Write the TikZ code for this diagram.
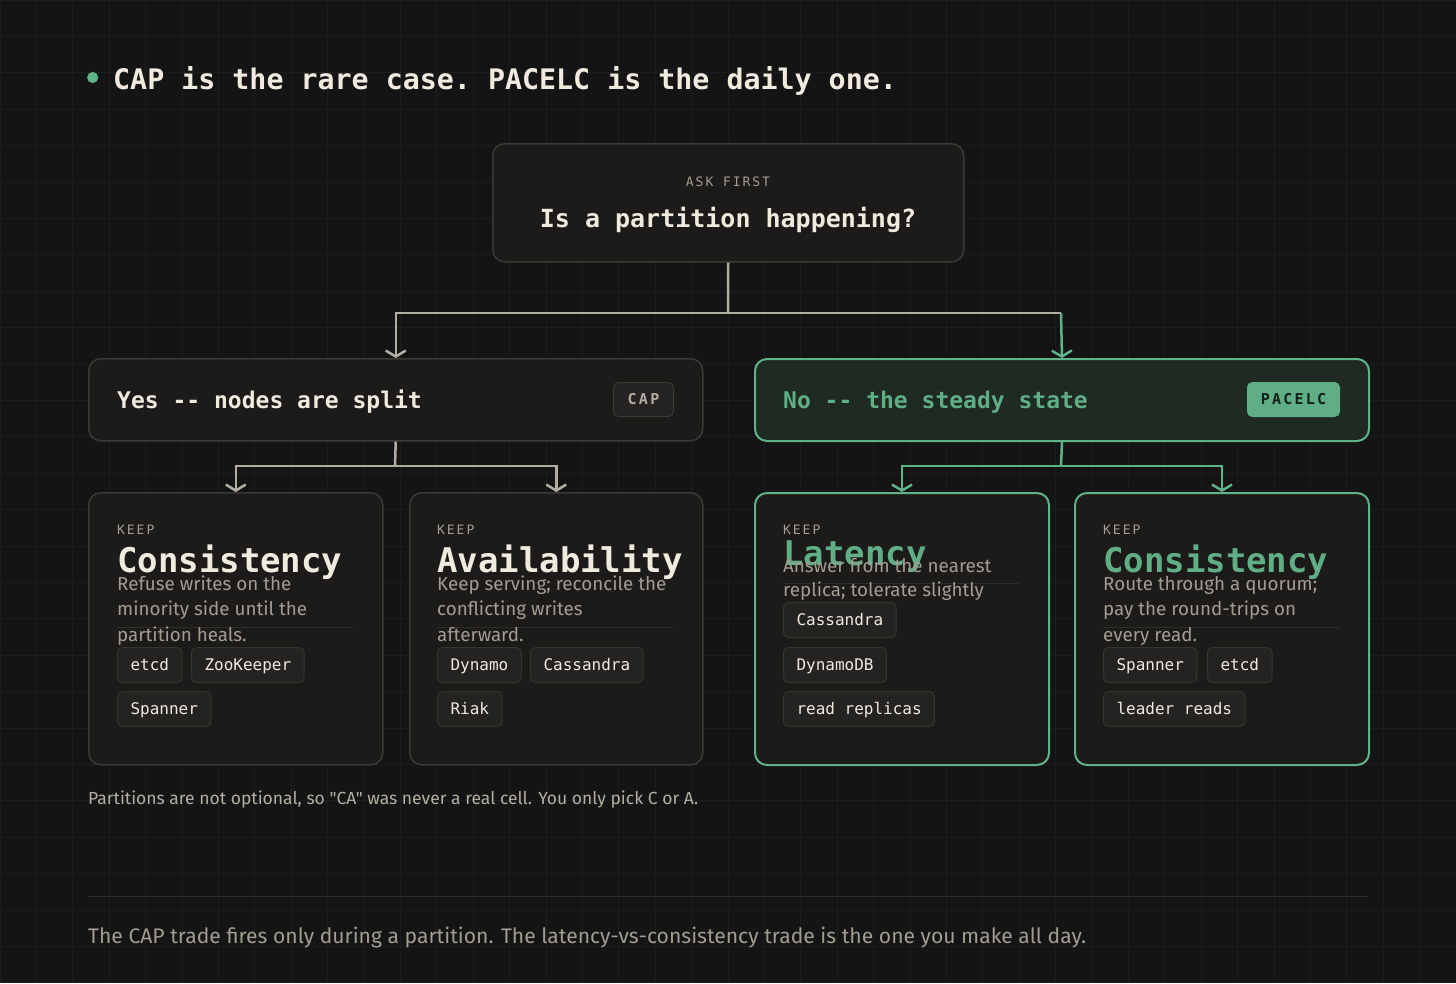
\documentclass[tikz,border=0pt]{standalone}
\usepackage{fontspec}
\usetikzlibrary{arrows.meta}
\setmonofont{DejaVu Sans Mono}
\newfontfamily\plex[Ligatures=TeXOff]{Fira Sans}
\newfontfamily\trk[LetterSpace=15]{DejaVu Sans Mono}
\definecolor{bg}{HTML}{141414}
\definecolor{gridc}{HTML}{1D1D1D}
\definecolor{cardfill}{HTML}{1C1B19}
\definecolor{cardborder}{HTML}{3B3934}
\definecolor{cream}{HTML}{F0EADF}
\definecolor{dim}{HTML}{A39D92}
\definecolor{desc}{HTML}{A39C91}
\definecolor{gline}{HTML}{B3ACA1}
\definecolor{grn}{HTML}{5FB389}
\definecolor{grntext}{HTML}{5FAE86}
\definecolor{grnfill}{HTML}{1E2A22}
\definecolor{chipfill}{HTML}{242321}
\definecolor{chipborder}{HTML}{36342F}
\definecolor{divc}{HTML}{2E2D2A}
\definecolor{foot}{HTML}{B5AEA2}
\definecolor{rulec}{HTML}{2B2A28}
\definecolor{badgetext}{HTML}{10201A}
\newcommand{\fsz}[1]{\fontsize{#1}{#1}\selectfont}
\begin{document}
\begin{tikzpicture}[x=1pt,y=-1pt,
  gridline/.style={draw=gridc, line width=1pt},
  card/.style={draw=cardborder, fill=cardfill, line width=1.5pt, rounded corners=12pt, inner sep=0pt, anchor=north west},
  gcard/.style={card, draw=grn, line width=2pt},
  txt/.style={inner sep=0pt, anchor=base west},
  keep/.style={txt, text=dim, font=\trk\fsz{13}},
  ttl/.style={txt, text=cream, font=\ttfamily\bfseries\fsz{34}},
  gttl/.style={ttl, text=grntext},
  dsc/.style={txt, text=desc, font=\plex\fsz{18.8}},
  divline/.style={draw=divc, line width=1pt},
  chip/.style={draw=chipborder, fill=chipfill, line width=1pt, rounded corners=5pt, inner xsep=13pt, inner ysep=0pt, minimum height=35pt, text height=12.5pt, text depth=1.5pt, anchor=north west, text=cream, font=\ttfamily\fsz{16}},
  gconn/.style={draw=gline, line width=2.5pt},
  grconn/.style={draw=grn, line width=2.5pt},
  tip/.style={-{Straight Barb[length=6pt,width=20pt]}}
]
\useasboundingbox (0,0) rectangle (1456,983);
\fill[bg] (0,0) rectangle (1456,983);
\foreach \i in {0,...,40} \draw[gridline] (\i*36.4,0) -- (\i*36.4,983);
\foreach \j in {0,...,27} \draw[gridline] (0,\j*36.4) -- (1456,\j*36.4);

% title
\fill[grn] (92.7,77.5) circle (5.6);
\node[txt, text=cream, font=\ttfamily\bfseries\fsz{28.3}] (title) at (113,89) {CAP is the rare case. PACELC is the daily one.};

% top question
\node[card, minimum width=471pt, minimum height=118pt] (top) at (492,143) {};
\node[inner sep=0pt, anchor=base, text=dim, font=\trk\fsz{13}] (ask) at (728,186) {ASK FIRST};
\node[inner sep=0pt, anchor=base, text=cream, font=\ttfamily\bfseries\fsz{25}] (q) at (728,227) {Is a partition happening?};

% level 2
\node[card, minimum width=614pt, minimum height=82pt] (cap) at (88,358) {};
\node[txt, text=cream, font=\ttfamily\bfseries\fsz{23}] (yes) at (117,408) {Yes -- nodes are split};
\node[card, draw=cardborder, fill=chipfill, line width=1pt, rounded corners=5pt, minimum width=60pt, minimum height=34pt] (capb) at (613,382) {};
\node[inner sep=0pt, text=gline, font=\trk\bfseries\fsz{15}] (capbt) at (capb.center) {CAP};

\node[gcard, fill=grnfill, minimum width=614pt, minimum height=82pt] (pac) at (754,358) {};
\node[txt, text=grntext, font=\ttfamily\bfseries\fsz{23}] (no) at (783,408) {No -- the steady state};
\node[card, draw=grntext, fill=grntext, line width=1pt, rounded corners=5pt, minimum width=92pt, minimum height=34pt] (pacb) at (1247,382) {};
\node[inner sep=0pt, text=badgetext, font=\trk\bfseries\fsz{15}] (pacbt) at (pacb.center) {PACELC};

% leaves
\node[card, minimum width=294pt, minimum height=272pt] (l1) at (88,492) {};
\node[card, minimum width=293pt, minimum height=272pt] (l2) at (409,492) {};
\node[gcard, minimum width=294pt, minimum height=272pt] (l3) at (754,492) {};
\node[gcard, minimum width=294pt, minimum height=272pt] (l4) at (1074,492) {};

% connectors
\coordinate (j0) at (728,313);
\coordinate (j0r) at (1061,313);
\draw[gconn] (top.south) -- (j0);
\draw[gconn, tip] (j0) -| (cap.north);
\draw[gconn] (j0) -- (j0r);
\draw[grconn, tip] (j0r) -- (pac.north);
\coordinate (j1) at (395,466);
\draw[gconn] (cap.south) -- (j1);
\draw[gconn, tip] (j1) -| (l1.north);
\draw[gconn, tip] (j1) -| (l2.north);
\coordinate (j2) at (1061,466);
\draw[grconn] (pac.south) -- (j2);
\draw[grconn, tip] (j2) -| (l3.north);
\draw[grconn, tip] (j2) -| (l4.north);

% leaf 1
\node[keep] (k1) at (117,534) {KEEP};
\node[ttl] (t1) at (117,572) {Consistency};
\draw[divline] (117,627) -- (353,627);
\node[dsc] (d1a) at (117,590) {Refuse writes on the};
\node[dsc] (d1b) at (117,615.5) {minority side until the};
\node[dsc] (d1c) at (117,641) {partition heals.};
\node[chip] (c1a) at (117,647) {etcd};
\node[chip] (c1b) at (191,647) {ZooKeeper};
\node[chip] (c1c) at (117,691) {Spanner};

% leaf 2
\node[keep] (k2) at (437,534) {KEEP};
\node[ttl] (t2) at (437,572) {Availability};
\draw[divline] (437,627) -- (673,627);
\node[dsc] (d2a) at (437,590) {Keep serving; reconcile the};
\node[dsc] (d2b) at (437,615.5) {conflicting writes};
\node[dsc] (d2c) at (437,641) {afterward.};
\node[chip] (c2a) at (437,647) {Dynamo};
\node[chip] (c2b) at (530,647) {Cassandra};
\node[chip] (c2c) at (437,691) {Riak};

% leaf 3
\node[keep] (k3) at (783,534) {KEEP};
\node[gttl] (t3) at (783,565) {Latency};
\draw[divline] (783,583) -- (1019,583);
\node[dsc] (d3a) at (783,572) {Answer from the nearest};
\node[dsc] (d3b) at (783,596.5) {replica; tolerate slightly};
\node[chip] (c3a) at (783,602) {Cassandra};
\node[chip] (c3b) at (783,647) {DynamoDB};
\node[chip] (c3c) at (783,691) {read replicas};

% leaf 4
\node[keep] (k4) at (1103,534) {KEEP};
\node[gttl] (t4) at (1103,572) {Consistency};
\draw[divline] (1103,627) -- (1339,627);
\node[dsc] (d4a) at (1103,590) {Route through a quorum;};
\node[dsc] (d4b) at (1103,615.5) {pay the round-trips on};
\node[dsc] (d4c) at (1103,641) {every read.};
\node[chip] (c4a) at (1103,647) {Spanner};
\node[chip] (c4b) at (1207,647) {etcd};
\node[chip] (c4c) at (1103,691) {leader reads};

% footnotes
\node[txt, text=foot, font=\plex\fsz{17.5}] (fn) at (88,804) {Partitions are not optional, so "CA" was never a real cell. You only pick C or A.};
\draw[draw=rulec, line width=1pt] (88,896) -- (1368,896);
\node[txt, text=desc, font=\plex\fsz{21.1}] (footer) at (88,943) {The CAP trade fires only during a partition. The latency-vs-consistency trade is the one you make all day.};
\end{tikzpicture}
\end{document}
